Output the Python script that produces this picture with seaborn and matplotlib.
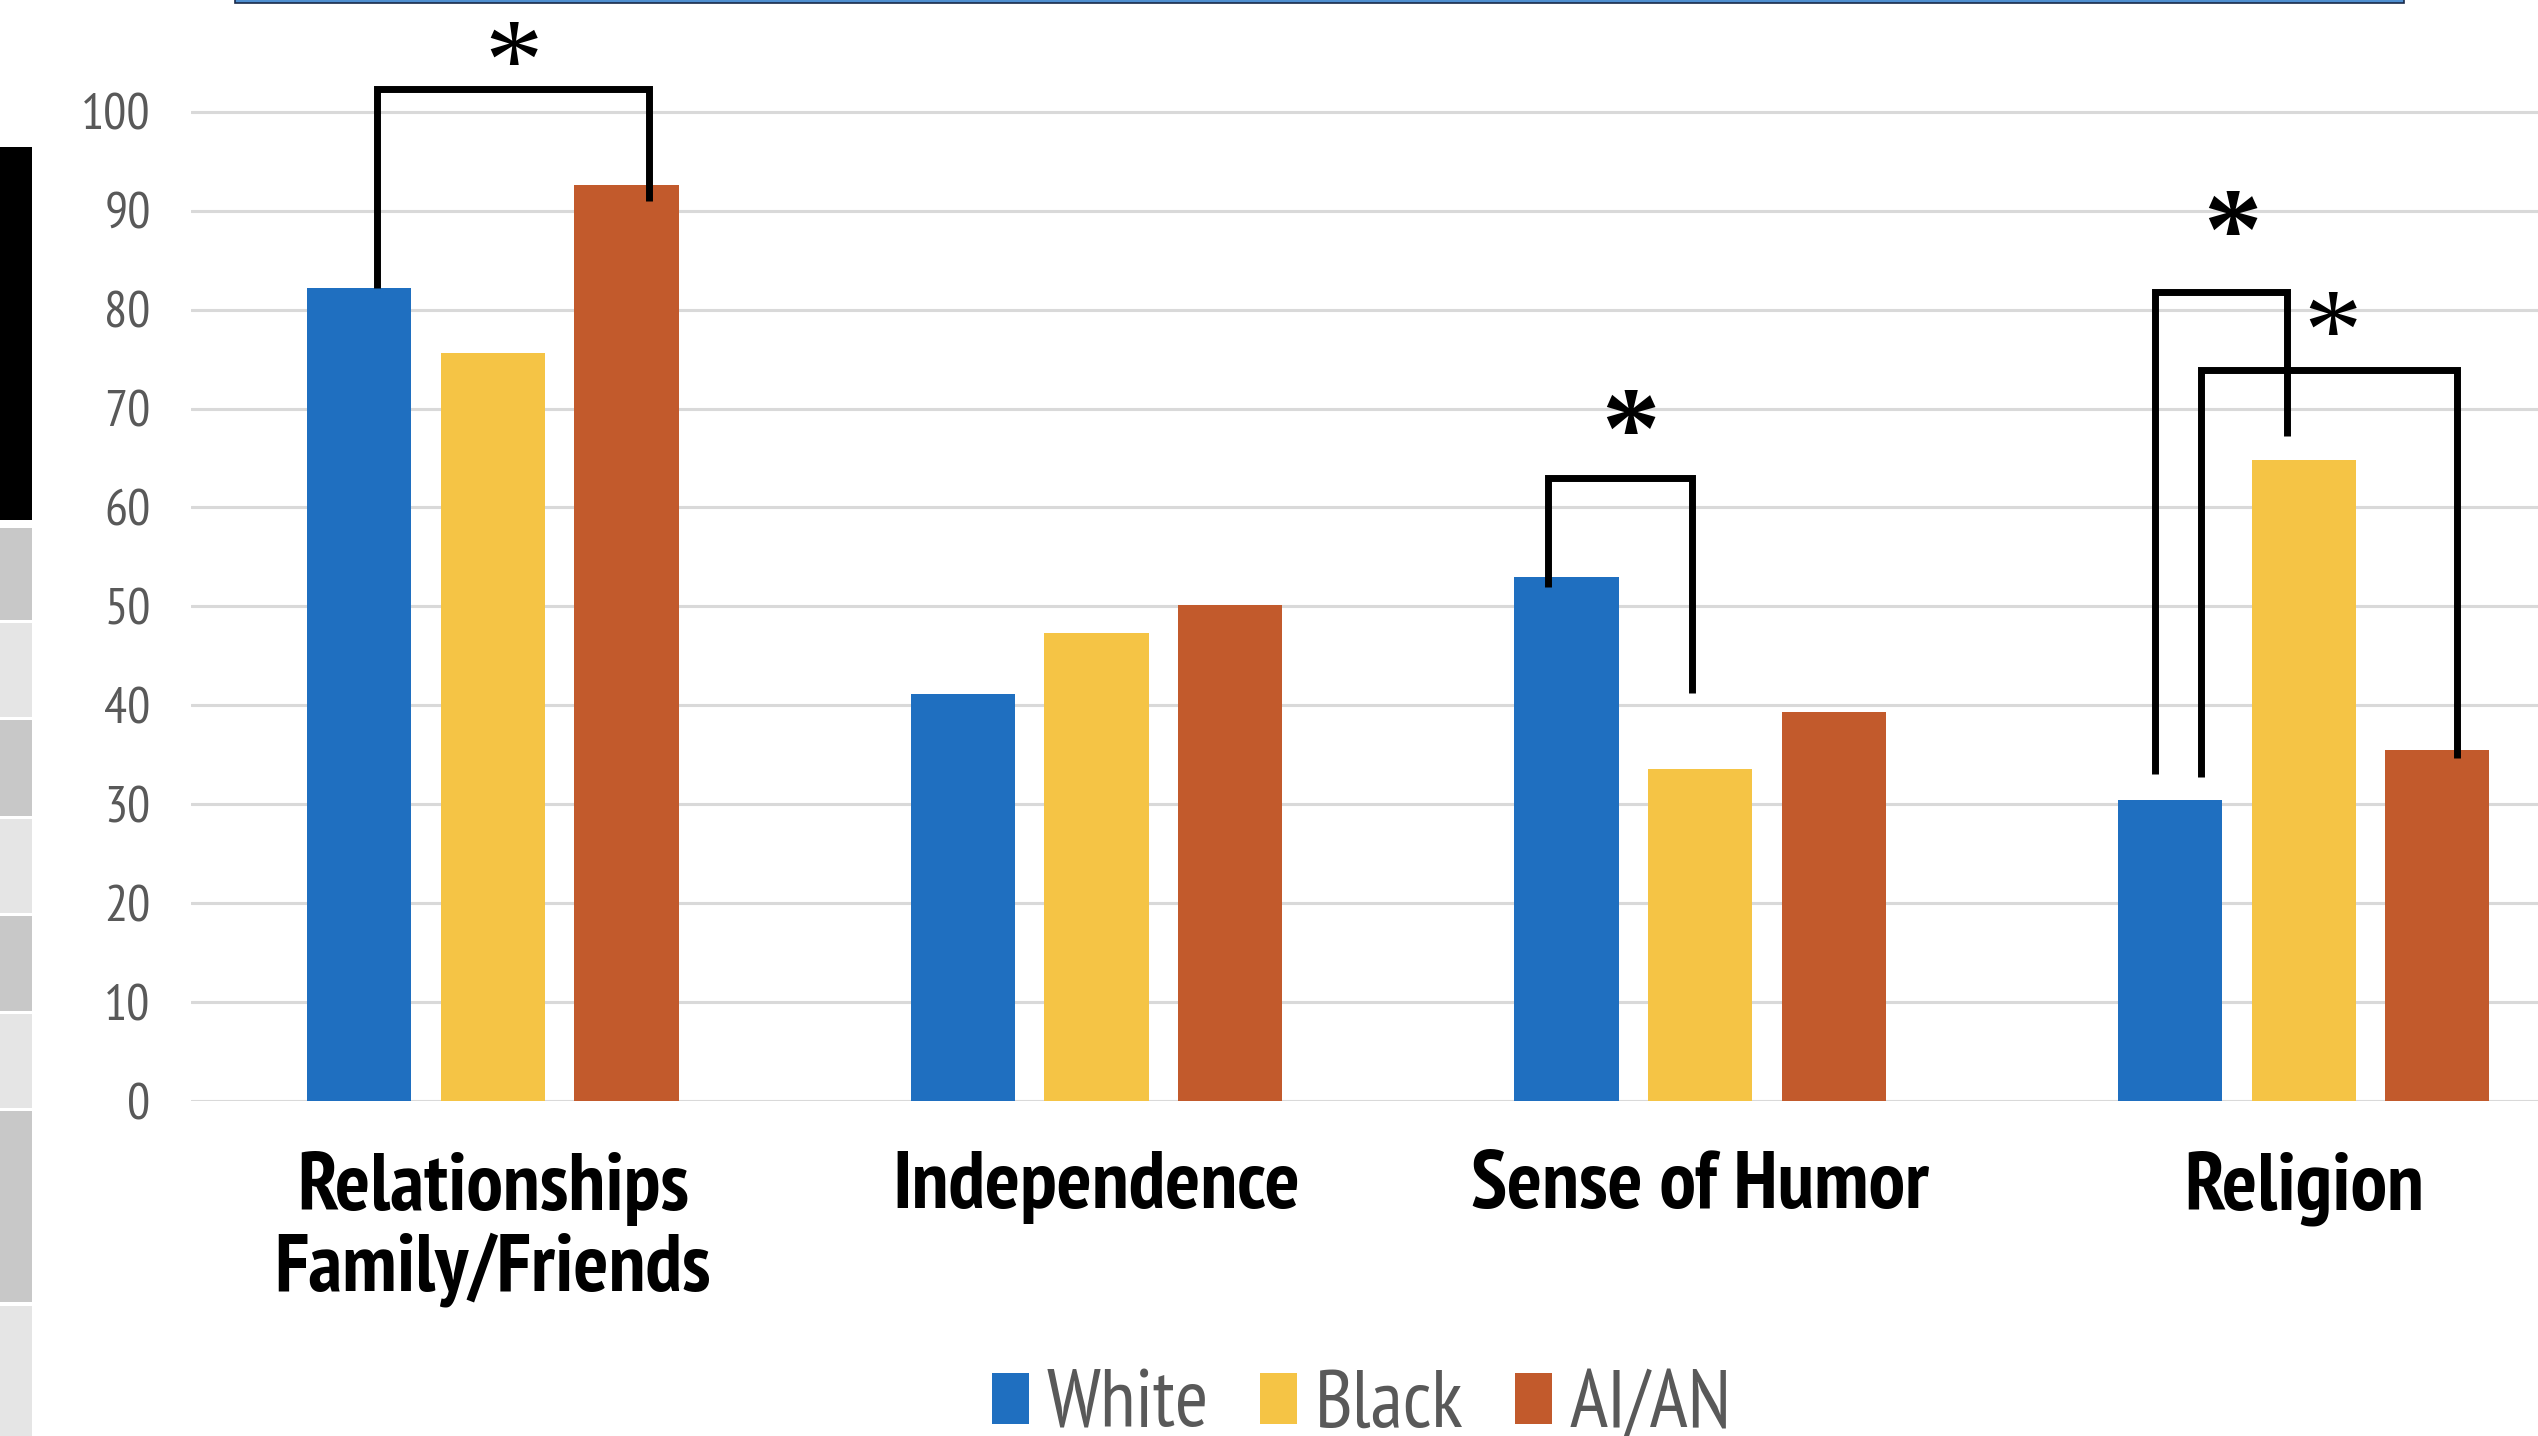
import matplotlib
matplotlib.use("Agg")
import matplotlib.pyplot as plt
from matplotlib.patches import Patch, Rectangle
import seaborn as sns
import pandas as pd

# Dane (procent)
categories = ["Relationships\nFamily/Friends", "Independence", "Sense of Humor", "Religion"]
groups = ["White", "Black", "AI/AN"]
white = [82.2, 41.1, 53.0, 30.4]
black = [75.6, 47.3, 33.6, 64.8]
aian = [92.6, 50.1, 39.3, 35.5]
yticks = [0, 10, 20, 30, 40, 50, 60, 70, 80, 90, 100]

colors = ["#1F6FC0", "#F5C445", "#C25A2C"]

# nawiasy istotnosci: (x lewy, x prawy, y gora, y dol lewy, y dol prawy, x gwiazdki, y gwiazdki, pogrubienie)
brackets = [
    (-0.192, 0.259, 102.3, 82.2, 91.0, 0.034, 105.9, "normal"),
    (1.748, 1.987, 63.0, 52.0, 41.2, 1.885, 68.7, "bold"),
    (2.753, 2.973, 81.8, 33.1, 67.2, 2.881, 88.8, "bold"),
    (2.830, 3.254, 73.9, 32.8, 34.7, 3.048, 78.6, "normal"),
]

rows = []
for i, cat in enumerate(categories):
    for grp, vals in zip(groups, [white, black, aian]):
        rows.append({"kategoria": cat, "grupa": grp, "wartosc": vals[i]})
df = pd.DataFrame(rows)

sns.set_style("white")
narrow = ["PT Sans Narrow", "Liberation Sans", "DejaVu Sans"]
plt.rcParams["font.family"] = narrow

fig = plt.figure(figsize=(25.38, 14.36), dpi=100)
ax = fig.add_axes([191 / 2538, 335 / 1436, 1 - 191 / 2538, 1101 / 1436])

sns.barplot(data=df, x="kategoria", y="wartosc", hue="grupa", palette=colors,
            saturation=1, width=0.664, gap=0.22, linewidth=0, legend=False, ax=ax)

ax.set_ylim(0, 111.3)
ax.set_xlim(-0.5, 3.388)
ax.set_yticks(yticks)
ax.yaxis.grid(True, color="#d9d9d9", linewidth=2.2)
ax.set_axisbelow(True)
for s in ax.spines.values():
    s.set_visible(False)
ax.set_xlabel("")
ax.set_ylabel("")
ax.tick_params(axis="y", length=0, pad=29, labelsize=37, labelcolor="#595959")
ax.tick_params(axis="x", length=0, pad=36)
for lab in ax.get_xticklabels():
    lab.set_fontsize(59)
    lab.set_fontweight("bold")
    lab.set_color("black")
    lab.set_linespacing(1.1)

# nawiasy i gwiazdki
for xl, xr, yt, ybl, ybr, sx, sy, w in brackets:
    ax.plot([xl, xl, xr, xr], [ybl, yt, yt, ybr], color="black", linewidth=5,
            solid_joinstyle="miter", solid_capstyle="butt", clip_on=False)
    ax.text(sx, sy - 1.8, "*", ha="center", va="center", fontsize=84,
            family=["Liberation Serif", "DejaVu Serif"], fontweight=w, color="black")

# legenda
handles = [Patch(facecolor=c, edgecolor="none") for c in colors]
fig.legend(handles, groups, loc="lower center", bbox_to_anchor=(0.5366, -0.005),
           ncol=3, frameon=False, fontsize=58, labelcolor="#595959",
           handlelength=0.46, handleheight=0.6, handletextpad=0.22,
           columnspacing=0.64, borderpad=0, borderaxespad=0)

# elementy tla slajdu po lewej i u gory
H = 1436.0
W = 2538.0
fig.patches.append(Rectangle((0, 1 - 520 / H), 32 / W, (520 - 147) / H,
                             transform=fig.transFigure, facecolor="black", edgecolor="none"))
blocks = [(528, 620, "#c8c8c8"), (623, 717, "#e5e5e5"), (720, 816, "#c8c8c8"),
          (819, 913, "#e5e5e5"), (916, 1011, "#c8c8c8"), (1014, 1108, "#e5e5e5"),
          (1111, 1302, "#c8c8c8"), (1306, 1436, "#e5e5e5")]
for y0, y1, c in blocks:
    fig.patches.append(Rectangle((0, 1 - y1 / H), 32 / W, (y1 - y0) / H,
                                 transform=fig.transFigure, facecolor=c, edgecolor="none"))
fig.patches.append(Rectangle((235 / W, 1 - 3 / H), (2404 - 235) / W, 10 / H,
                             transform=fig.transFigure, facecolor="#4f8fd0",
                             edgecolor="#1a2b4a", linewidth=1.2))

fig.savefig("out.png", dpi=100)
